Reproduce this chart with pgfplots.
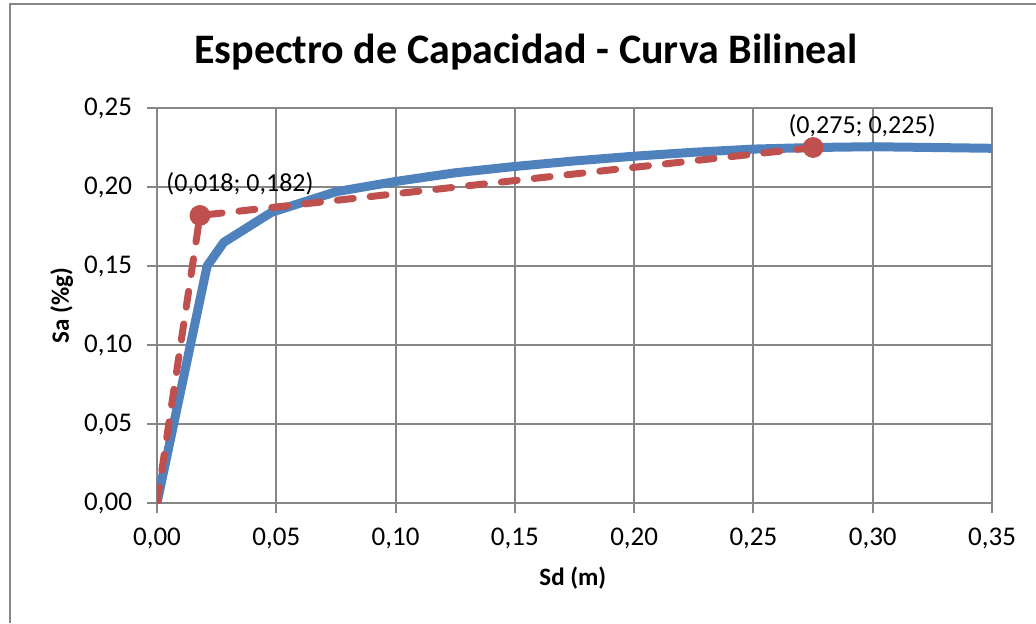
\documentclass[border=0pt]{standalone}
\usepackage{fontspec}
\setmainfont{Carlito}
\usepackage{pgfplots}
\pgfplotsset{compat=1.18}

\definecolor{gridgray}{RGB}{134,134,134}
\definecolor{xlblue}{RGB}{79,129,189}
\definecolor{xlred}{RGB}{192,80,77}

\begin{document}
\begin{tikzpicture}
\useasboundingbox (-78.5pt,-60pt) rectangle (439.5pt,251.5pt);
% chart frame (only top and left edges are visible in the original)
\draw[gridgray, line width=1pt] (-73.5pt,-60pt) -- (-73.5pt,249.5pt) -- (439.5pt,249.5pt);

\begin{axis}[
at={(0,0)}, anchor=south west,
scale only axis,
width=417.5pt, height=197.5pt,
xmin=0, xmax=0.35,
ymin=0, ymax=0.25,
xtick={0,0.05,0.10,0.15,0.20,0.25,0.30,0.35},
ytick={0,0.05,0.10,0.15,0.20,0.25},
grid=major,
grid style={gridgray, line width=1pt},
axis line style={gridgray, line width=1pt},
tick style={gridgray, line width=1pt},
tick align=outside,
major tick length=5pt,
xtick pos=bottom, ytick pos=left,
/pgf/number format/.cd, use comma, fixed, fixed zerofill, precision=2, assume math mode=true,
/pgfplots/.cd,
ticklabel style={font=\fontsize{13.5}{15}\selectfont, text=black},
yticklabel style={xshift=-4pt},
xticklabel style={yshift=-4pt},
title={Espectro de Capacidad - Curva Bilineal},
title style={font=\bfseries\fontsize{21}{25}\selectfont, at={(axis description cs:0.442,1.112)}, anchor=center},
xlabel={Sd (m)},
xlabel style={font=\bfseries\fontsize{12.5}{14}\selectfont, at={(axis description cs:0.498,-0.19)}, anchor=center},
ylabel={Sa (\%g)},
ylabel style={font=\bfseries\fontsize{12.5}{14}\selectfont, at={(axis description cs:-0.114,0.5)}, anchor=center, rotate=0},
]
% capacity curve
\addplot[xlblue, line width=4.5pt, line join=round, line cap=round] coordinates {
(0,0) (0.007,0.05) (0.014,0.1) (0.021,0.15) (0.028,0.165) (0.048,0.184)
(0.075,0.197) (0.1,0.2035) (0.125,0.209) (0.15,0.213) (0.175,0.2165)
(0.2,0.2195) (0.225,0.222) (0.25,0.224) (0.275,0.225) (0.3,0.2255)
(0.325,0.225) (0.35,0.2245)
};
% bilinear idealisation
\addplot[xlred, line width=3.5pt, line cap=round, dash pattern=on 8pt off 8.5pt] coordinates {
(0,0) (0.018,0.182) (0.275,0.225)
};
\addplot[only marks, mark=*, mark size=5pt, xlred,
  nodes near coords={(0,018; 0,182)},
  nodes near coords style={text=black, font=\fontsize{13}{15}\selectfont, anchor=center, xshift=20pt, yshift=16pt}]
  coordinates {(0.018,0.182)};
\addplot[only marks, mark=*, mark size=5pt, xlred,
  nodes near coords={(0,275; 0,225)},
  nodes near coords style={text=black, font=\fontsize{13}{15}\selectfont, anchor=center, xshift=24.5pt, yshift=10.75pt}]
  coordinates {(0.275,0.225)};
\end{axis}
\end{tikzpicture}
\end{document}
